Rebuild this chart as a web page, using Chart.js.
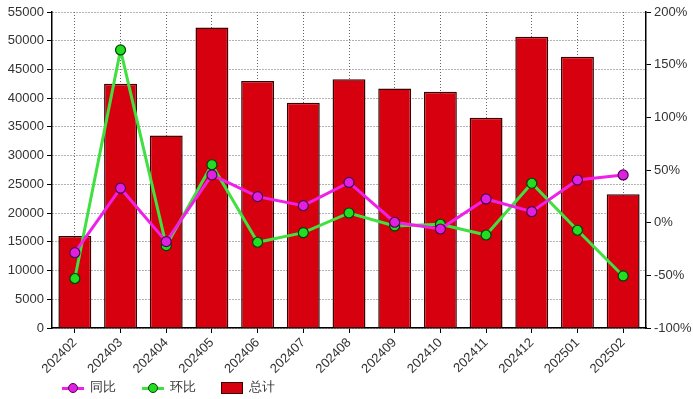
<!DOCTYPE html>
<html>
<head>
<meta charset="utf-8">
<script src="https://cdn.jsdelivr.net/npm/chart.js@4"></script>
<style>
  body { margin: 0; background: #fff; }
  #wrap { position: relative; width: 693px; height: 399px; }
  #legend { position: absolute; left: 62px; top: 378px; font: 13px "Liberation Sans", Arial, sans-serif; color: #333; }
  #legend span.item { display: inline-block; margin-right: 22px; vertical-align: middle; }
  .ln { display: inline-block; position: relative; width: 22px; height: 10px; vertical-align: middle; margin-right: 6px; }
  .ln i { position: absolute; left: 0; right: 0; top: 4px; height: 3px; }
  .ln b { position: absolute; left: 6px; top: 0; width: 8px; height: 8px; border-radius: 50%; border: 1px solid #000; }
  .bx { display: inline-block; width: 20px; height: 10px; background: #d7000f; border: 1px solid #3a0000; vertical-align: middle; margin-right: 6px; }
</style>
</head>
<body>
<div id="wrap">
  <canvas id="myChart" width="693" height="399"></canvas>
  <div id="legend">
    <span class="item"><span class="ln"><i style="background:#f020e8"></i><b style="background:#e020e0;border-color:#500050"></b></span>同比</span>
    <span class="item"><span class="ln"><i style="background:#40e040"></i><b style="background:#22dd22;border-color:#004000"></b></span>环比</span>
    <span class="item"><span class="bx"></span>总计</span>
  </div>
</div>
<script>
var months = ['202402','202403','202404','202405','202406','202407','202408','202409','202410','202411','202412','202501','202502'];
var total = [16000, 42500, 33500, 52300, 43000, 39200, 43300, 41700, 41100, 36600, 50700, 47200, 23300];
var yoy = [-28.5, 32.7, -18, 45.3, 24.7, 16.1, 38.2, 0.4, -6, 22.5, 10.4, 40.5, 45.3];
var mom = [-53, 164, -21.8, 55, -18.6, -9.5, 9.2, -3.1, -1.5, -11.7, 37.4, -7.2, -50.6];

var tickFont = { family: 'Liberation Sans, Arial, sans-serif', size: 13 };

var ctx = document.getElementById('myChart');
var chart = new Chart(ctx, {
  type: 'bar',
  data: {
    labels: months,
    datasets: [
      {
        type: 'line',
        label: '同比',
        data: yoy,
        yAxisID: 'y1',
        borderColor: '#f020e8',
        borderWidth: 3,
        pointRadius: 5,
        pointBackgroundColor: '#e020e0',
        pointBorderColor: '#500050',
        pointBorderWidth: 1.2,
        tension: 0,
        order: 0
      },
      {
        type: 'line',
        label: '环比',
        data: mom,
        yAxisID: 'y1',
        borderColor: '#40e040',
        borderWidth: 3,
        pointRadius: 5,
        pointBackgroundColor: '#22dd22',
        pointBorderColor: '#004000',
        pointBorderWidth: 1.2,
        tension: 0,
        order: 1
      },
      {
        label: '总计',
        data: total,
        yAxisID: 'y',
        backgroundColor: '#d7000f',
        borderColor: '#3a0000',
        borderWidth: 1.5,
        barPercentage: 0.72,
        categoryPercentage: 1,
        order: 2
      }
    ]
  },
  options: {
    responsive: false,
    animation: false,
    layout: { padding: { top: 12, right: 0, left: 0, bottom: 0 } },
    plugins: { legend: { display: false }, tooltip: { enabled: false } },
    scales: {
      x: {
        grid: { offset: false, color: '#666', tickLength: 5, tickColor: '#000' },
        border: { color: '#000', width: 1.5, dash: [1, 2] },
        ticks: { color: '#333', font: tickFont, maxRotation: 45, minRotation: 45, padding: 2 },
        afterFit: function (s) { s.height = 71; }
      },
      y: {
        position: 'left',
        min: 0,
        max: 55000,
        grid: { color: '#666', tickColor: '#000', tickLength: 5 },
        border: { color: '#000', width: 1.5, dash: [1, 2] },
        ticks: { stepSize: 5000, color: '#333', font: tickFont, padding: 3, callback: function (v) { return String(v); } },
        afterFit: function (s) { s.width = 52; }
      },
      y1: {
        position: 'right',
        min: -100,
        max: 200,
        grid: { drawOnChartArea: false, tickColor: '#000', tickLength: 5 },
        border: { color: '#000', width: 1.5 },
        ticks: { stepSize: 50, color: '#333', font: tickFont, padding: 3, callback: function (v) { return v + '%'; } },
        afterFit: function (s) { s.width = 47; }
      }
    }
  }
});
</script>
</body>
</html>
